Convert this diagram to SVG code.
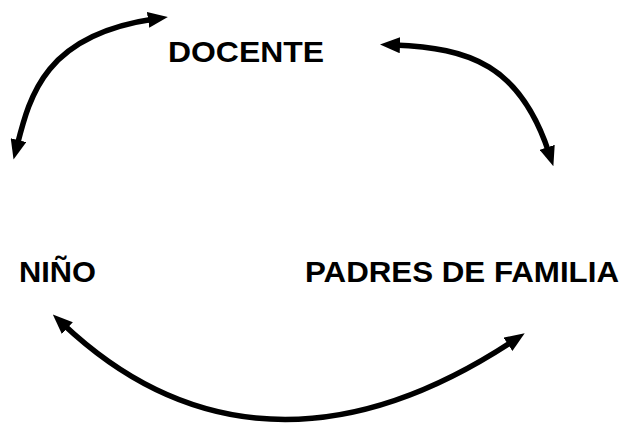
<svg xmlns="http://www.w3.org/2000/svg" width="632" height="426" viewBox="0 0 632 426">
<defs>
<marker id="ah" markerUnits="userSpaceOnUse" markerWidth="20" markerHeight="16" viewBox="0 0 20 16" refX="6" refY="8" orient="auto-start-reverse">
<path d="M0,0 L20,8 L0,16 z" fill="#000"/>
</marker>
<style>
.lbl{font-family:"Liberation Sans",Arial,sans-serif;font-weight:bold;font-size:30px;fill:#000}
.con{fill:none;stroke:#000;stroke-width:5.5;marker-start:url(#ah);marker-end:url(#ah)}
</style>
</defs>
<rect width="632" height="426" fill="#fff"/>
<g id="connectors">
<path class="con" d="M17,146 C30,95 45,35 154,19"/>
<path class="con" d="M394,45 C470,48 520,65 549,153"/>
<path class="con" d="M63,324 C170,425 320,468 513,341"/>
</g>
<g id="docente"><text class="lbl" x="168" y="62" textLength="156" lengthAdjust="spacingAndGlyphs">DOCENTE</text></g>
<g id="nino"><text class="lbl" x="19" y="282" textLength="77" lengthAdjust="spacingAndGlyphs">NIÑO</text></g>
<g id="padres"><text class="lbl" x="305" y="282" textLength="314" lengthAdjust="spacingAndGlyphs">PADRES DE FAMILIA</text></g>
</svg>
